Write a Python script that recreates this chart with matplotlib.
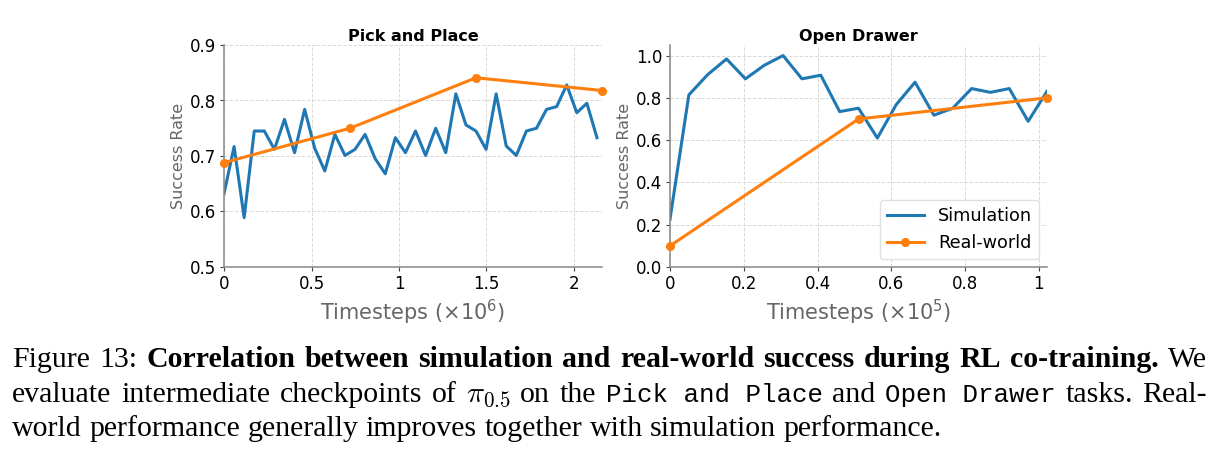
import numpy as np
import matplotlib
matplotlib.use("Agg")
import matplotlib.pyplot as plt

# simulation success rate (one value per checkpoint)
sim_pick = [0.632, 0.717, 0.589, 0.745, 0.745, 0.712, 0.766, 0.706, 0.784, 0.714,
            0.673, 0.739, 0.701, 0.712, 0.739, 0.695, 0.668, 0.733, 0.706, 0.745,
            0.701, 0.750, 0.706, 0.812, 0.756, 0.745, 0.712, 0.812, 0.718, 0.701,
            0.745, 0.750, 0.784, 0.789, 0.828, 0.778, 0.795, 0.733]
sim_drawer = [0.226, 0.814, 0.910, 0.984, 0.890, 0.954, 1.0, 0.890, 0.907, 0.735,
              0.751, 0.610, 0.768, 0.874, 0.718, 0.751, 0.844, 0.826, 0.844, 0.689,
              0.831]

# real-world evaluations
real_pick_x = [0, 0.72, 1.44, 2.16]
real_pick = [0.688, 0.750, 0.841, 0.818]
real_drawer_x = [0, 0.511, 1.022]
real_drawer = [0.10, 0.70, 0.80]

# checkpoint spacing (x1e6 and x1e5 timesteps)
pick_step = 0.0576
drawer_step = 0.0511

blue = "#1f77b4"
orange = "#ff7f0e"
gray_txt = "#666666"

W, H = 1219, 457
fig = plt.figure(figsize=(W / 100, H / 100), dpi=100)

ax1 = fig.add_axes([224 / W, 1 - 267 / H, 378 / W, 222 / H])
ax2 = fig.add_axes([670 / W, 1 - 267 / H, 377 / W, 222 / H])


def style_axes(ax, title):
    ax.set_title(title, fontsize=11.5, fontweight="bold", pad=3)
    ax.grid(True, linestyle="--", color="#d9d9d9", linewidth=0.7)
    ax.set_axisbelow(True)
    for s in ["top", "right"]:
        ax.spines[s].set_visible(False)
    for s in ["left", "bottom"]:
        ax.spines[s].set_color("#888888")
        ax.spines[s].set_linewidth(1.1)
    ax.tick_params(labelsize=12, length=3, pad=2.5, color="#444444")
    ax.set_ylabel("Success Rate", fontsize=11.5, color=gray_txt, labelpad=3)


# left: pick and place
x_pick = np.arange(len(sim_pick)) * pick_step
ax1.plot(x_pick, sim_pick, color=blue, lw=2.2, label="Simulation")
ax1.plot(real_pick_x, real_pick, color=orange, lw=2.2, marker="o", ms=5.5,
         label="Real-world", clip_on=False, zorder=3)
ax1.set_xlim(0, 2.16)
ax1.set_ylim(0.5, 0.9)
ax1.set_xticks([0, 0.5, 1, 1.5, 2])
ax1.set_xticklabels(["0", "0.5", "1", "1.5", "2"])
ax1.set_yticks([0.5, 0.6, 0.7, 0.8, 0.9])
ax1.set_xlabel(r"Timesteps ($\times 10^6$)", fontsize=15, color=gray_txt)
style_axes(ax1, "Pick and Place")

# right: open drawer
x_drawer = np.arange(len(sim_drawer)) * drawer_step
ax2.plot(x_drawer, sim_drawer, color=blue, lw=2.2, label="Simulation")
ax2.plot(real_drawer_x, real_drawer, color=orange, lw=2.2, marker="o", ms=5.5,
         label="Real-world", clip_on=False, zorder=3)
ax2.set_xlim(0, 1.022)
ax2.set_ylim(0, 1.05)
ax2.set_xticks([0, 0.2, 0.4, 0.6, 0.8, 1.0])
ax2.set_xticklabels(["0", "0.2", "0.4", "0.6", "0.8", "1"])
ax2.set_yticks([0, 0.2, 0.4, 0.6, 0.8, 1.0])
ax2.set_yticklabels(["0.0", "0.2", "0.4", "0.6", "0.8", "1.0"])
ax2.set_xlabel(r"Timesteps ($\times 10^5$)", fontsize=15, color=gray_txt)
style_axes(ax2, "Open Drawer")
ax2.legend(loc="lower right", fontsize=12.7, handlelength=2.1, borderaxespad=0.45,
           framealpha=0.9, edgecolor="#dddddd")

# caption below, justified like the paper
cap_size = 21.5
serif = dict(family="Liberation Serif", fontsize=cap_size)
styles = {
    "n": dict(**serif),
    "b": dict(**serif, fontweight="bold"),
    "m": dict(family="Liberation Mono", fontsize=18.6),
    "x": dict(fontsize=cap_size, math_fontfamily="cm"),
}
line1 = [("Figure", "n"), ("13:", "n"), ("Correlation", "b"), ("between", "b"),
         ("simulation", "b"), ("and", "b"), ("real-world", "b"), ("success", "b"),
         ("during", "b"), ("RL", "b"), ("co-training.", "b"), ("We", "n")]
line2 = [("evaluate", "n"), ("intermediate", "n"), ("checkpoints", "n"), ("of", "n"),
         (r"$\pi_{0.5}$", "x"), ("on", "n"), ("the", "n"), ("Pick and Place", "m"),
         ("and", "n"), ("Open Drawer", "m"), ("tasks.", "n"), ("Real-", "n")]
line3 = [("world", "n"), ("performance", "n"), ("generally", "n"), ("improves", "n"),
         ("together", "n"), ("with", "n"), ("simulation", "n"), ("performance.", "n")]

fig.canvas.draw()
rend = fig.canvas.get_renderer()


def put_line(tokens, y_px, justify, x0=12, x1=1207):
    texts = [fig.text(0, 1 - y_px / H, s, va="baseline", ha="left", **styles[k])
             for s, k in tokens]
    widths = [t.get_window_extent(rend).width for t in texts]
    if justify:
        gap = (x1 - x0 - sum(widths)) / (len(texts) - 1)
    else:
        gap = 0.25 * cap_size * 100 / 72
    x = x0
    for t, w in zip(texts, widths):
        t.set_x(x / W)
        x += w + gap


put_line(line1, 367, True)
put_line(line2, 402, True)
put_line(line3, 436, False)

fig.savefig("out.png", dpi=100)
